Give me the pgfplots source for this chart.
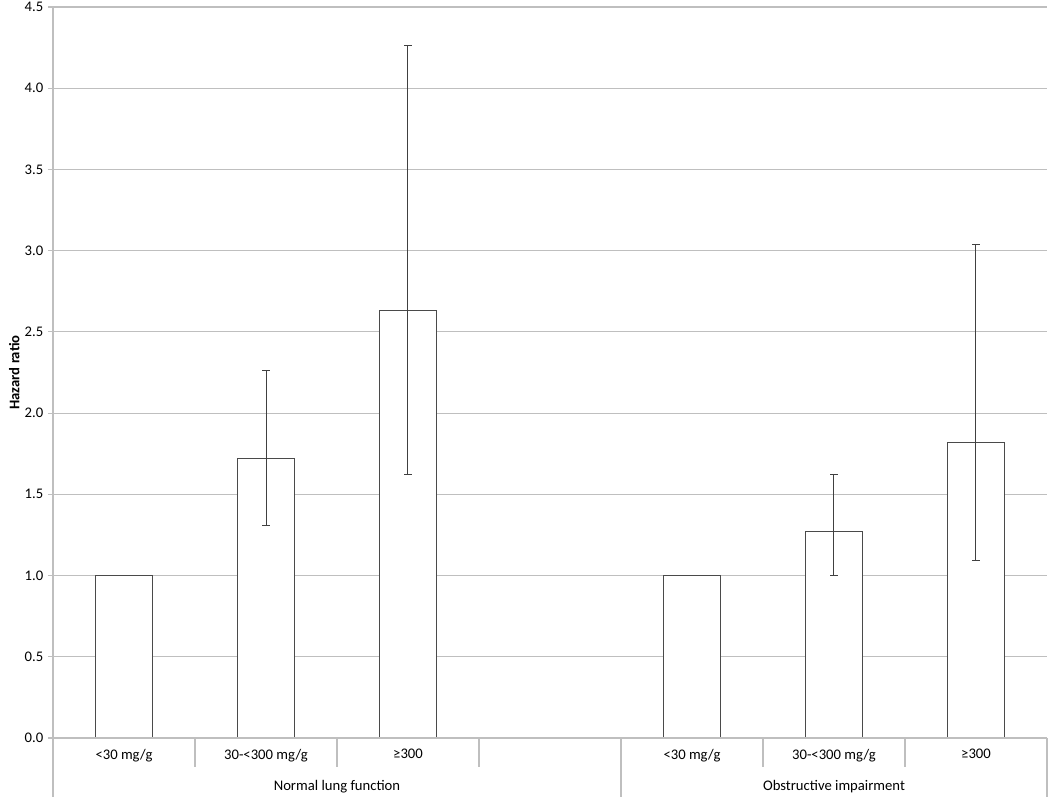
\documentclass[border=0pt]{standalone}
\usepackage{pgfplots}
\pgfplotsset{compat=1.18}
\usepackage{fontspec}
\setmainfont{Carlito}
\definecolor{gridc}{HTML}{BFBFBF}
\definecolor{barc}{HTML}{4A4A4A}
\definecolor{errc}{HTML}{404040}
\begin{document}
\begin{tikzpicture}
\path[use as bounding box] (0,0) rectangle (787.5pt,600pt);
\begin{axis}[
  at={(39.75pt,46.5pt)}, anchor=south west,
  scale only axis, width=745.5pt, height=548.25pt,
  xmin=-0.5, xmax=6.5, ymin=0, ymax=4.5,
  clip=false,
  axis x line*=bottom, axis y line*=left,
  axis line style={gridc, line width=0.9pt, -},
  ytick={0,0.5,1,1.5,2,2.5,3,3.5,4,4.5},
  yticklabel style={/pgf/number format/.cd, fixed, fixed zerofill, precision=1, assume math mode=true},
  tick label style={font=\fontsize{11}{13}\selectfont},
  ymajorgrids, grid style={gridc, line width=0.9pt},
  ytick align=outside, major tick length=3.75pt,
  ytick style={gridc, line width=0.9pt},
  xtick={0,1,2,4,5,6},
  xticklabels={{<30 mg/g},{30-<300 mg/g},{≥300},{<30 mg/g},{30-<300 mg/g},{≥300}},
  xtick style={draw=none},
  xticklabel style={yshift=-5pt},
  ylabel={\textbf{Hazard ratio}},
  ylabel style={font=\fontsize{11}{13}\selectfont, yshift=-3pt},
]
\addplot[ybar, bar width=0.4, bar shift=0pt, fill=white, draw=barc, line width=0.8pt]
  table {
x y
0 1
4 1
};
\addplot[ybar, bar width=0.4, bar shift=0pt, fill=white, draw=barc, line width=0.8pt,
  error bars/.cd, y dir=both, y explicit,
  error bar style={errc, line width=0.75pt},
  error mark options={rotate=90, errc, mark size=2.7pt, line width=0.75pt}]
  table[x=x, y=y, y error plus=ep, y error minus=em] {
x y ep em
1 1.72 0.54 0.41
2 2.63 1.63 1.01
5 1.27 0.35 0.27
6 1.82 1.22 0.73
};
\draw[gridc, line width=0.9pt] (axis cs:-0.5,0) -- (axis cs:6.5,0);
\draw[gridc, line width=0.9pt] (axis cs:0.5,0) -- ++(0pt,-21.75pt);
\draw[gridc, line width=0.9pt] (axis cs:1.5,0) -- ++(0pt,-21.75pt);
\draw[gridc, line width=0.9pt] (axis cs:2.5,0) -- ++(0pt,-21.75pt);
\draw[gridc, line width=0.9pt] (axis cs:4.5,0) -- ++(0pt,-21.75pt);
\draw[gridc, line width=0.9pt] (axis cs:5.5,0) -- ++(0pt,-21.75pt);
\draw[gridc, line width=0.9pt] (axis cs:-0.5,0) -- ++(0pt,-44.25pt);
\draw[gridc, line width=0.9pt] (axis cs:3.5,0) -- ++(0pt,-44.25pt);
\draw[gridc, line width=0.9pt] (axis cs:6.5,0) -- ++(0pt,-44.25pt);
\node[font=\fontsize{11}{13}\selectfont, yshift=-36.75pt] at (axis cs:1.5,0) {Normal lung function};
\node[font=\fontsize{11}{13}\selectfont, yshift=-36.75pt] at (axis cs:5,0) {Obstructive impairment};
\end{axis}
\end{tikzpicture}
\end{document}
